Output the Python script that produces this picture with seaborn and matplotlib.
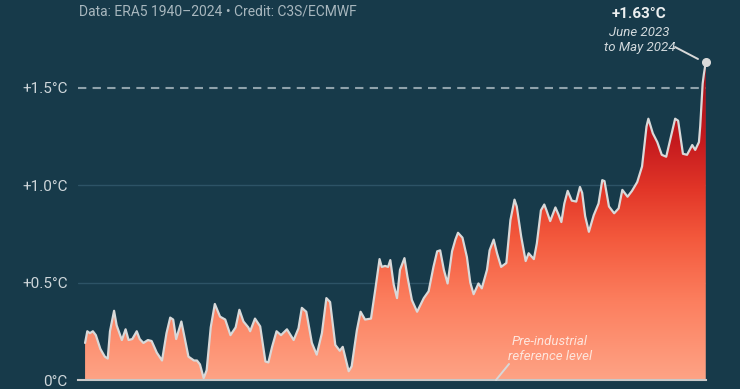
import numpy as np
import pandas as pd
import seaborn as sns
import matplotlib.pyplot as plt
from matplotlib import font_manager
from matplotlib.colors import LinearSegmentedColormap

# 12-month running mean, end month as decimal year
years = [
    1940.95, 1941.25, 1941.6, 1942.0, 1942.4, 1943.0, 1943.6, 1944.0, 1944.3, 1944.85,
    1945.2, 1945.9, 1946.4, 1946.8, 1947.3, 1947.9, 1948.3, 1948.8, 1949.4, 1949.9,
    1950.6, 1951.3, 1951.9, 1952.4, 1952.8, 1953.2, 1953.9, 1954.4, 1954.85, 1955.6,
    1956.0, 1956.4, 1956.9, 1957.3, 1957.85, 1958.4, 1959.1, 1959.8, 1960.5, 1961.2,
    1961.7, 1962.25, 1962.9, 1963.15, 1963.8, 1964.5, 1965.2, 1965.6, 1966.1, 1966.7,
    1967.3, 1968.1, 1969.0, 1969.65, 1970.1, 1970.7, 1971.45, 1972.1, 1972.8, 1973.4,
    1973.9, 1974.6, 1975.2, 1975.6, 1976.4, 1976.8, 1977.5, 1978.0, 1978.6, 1979.4,
    1980.0, 1980.55, 1980.85, 1981.3, 1981.7, 1982.0, 1982.45, 1982.9, 1983.3, 1983.9,
    1984.3, 1984.9, 1985.6, 1986.5, 1987.15, 1987.8, 1988.3, 1988.7, 1989.2, 1989.7,
    1990.3, 1990.75, 1991.1, 1991.7, 1992.3, 1992.75, 1993.2, 1993.85, 1994.3, 1995.0,
    1995.35, 1995.9, 1996.35, 1996.9, 1997.6, 1998.15, 1998.7, 1999.0, 1999.6, 2000.2,
    2000.6, 2001.3, 2001.7, 2002.25, 2002.7, 2003.0, 2003.5, 2004.2, 2004.6, 2005.0,
    2005.4, 2005.85, 2006.4, 2007.0, 2007.5, 2007.8, 2008.2, 2008.7, 2009.35, 2010.0,
    2010.5, 2010.8, 2011.4, 2012.1, 2012.7, 2013.2, 2013.9, 2014.5, 2015.2, 2015.85,
    2016.45, 2016.7, 2017.3, 2017.9, 2018.5, 2019.1, 2019.75, 2020.3, 2020.7, 2021.35,
    2021.9, 2022.6, 2023.0, 2023.5, 2023.67, 2023.83, 2024.0, 2024.17, 2024.42,
]
anomaly = [
    0.19, 0.25, 0.24, 0.25, 0.23, 0.16, 0.12, 0.11, 0.25, 0.355,
    0.28, 0.205, 0.26, 0.205, 0.21, 0.25, 0.21, 0.19, 0.205, 0.20,
    0.14, 0.10, 0.24, 0.32, 0.31, 0.21, 0.30, 0.205, 0.12, 0.10,
    0.10, 0.08, 0.01, 0.05, 0.27, 0.39, 0.325, 0.31, 0.23, 0.27,
    0.36, 0.30, 0.27, 0.25, 0.315, 0.275, 0.095, 0.09, 0.17, 0.25,
    0.23, 0.26, 0.205, 0.265, 0.37, 0.35, 0.19, 0.13, 0.24, 0.42,
    0.40, 0.18, 0.15, 0.17, 0.045, 0.07, 0.255, 0.35, 0.31, 0.315,
    0.47, 0.62, 0.58, 0.585, 0.58, 0.615, 0.49, 0.42, 0.565, 0.625,
    0.53, 0.41, 0.35, 0.42, 0.455, 0.58, 0.66, 0.665, 0.565, 0.495,
    0.66, 0.72, 0.755, 0.73, 0.63, 0.50, 0.44, 0.495, 0.47, 0.565,
    0.665, 0.72, 0.65, 0.58, 0.60, 0.82, 0.925, 0.89, 0.735, 0.61,
    0.65, 0.62, 0.70, 0.87, 0.90, 0.87, 0.815, 0.885, 0.85, 0.81,
    0.905, 0.97, 0.92, 0.915, 0.99, 0.96, 0.84, 0.76, 0.845, 0.905,
    1.025, 1.02, 0.89, 0.855, 0.88, 0.975, 0.94, 0.97, 1.015, 1.095,
    1.30, 1.34, 1.265, 1.22, 1.155, 1.145, 1.25, 1.34, 1.33, 1.16,
    1.155, 1.205, 1.18, 1.22, 1.30, 1.41, 1.52, 1.57, 1.63,
]
ytick_vals = [0, 0.5, 1.0, 1.5]
ytick_labels = ['0°C', '+0.5°C', '+1.0°C', '+1.5°C']
xtick_vals = [1950, 1970, 1990, 2010, 2024]

df = pd.DataFrame({'year': years, 'anomaly': anomaly})

BG = '#173a4a'
sns.set_theme(style='dark', rc={'figure.facecolor': BG, 'axes.facecolor': BG})
names = {f.name for f in font_manager.fontManager.ttflist}
base_font = 'Liberation Sans Narrow' if 'Liberation Sans Narrow' in names else 'Roboto'
plt.rcParams['font.family'] = [base_font, 'DejaVu Sans']

fig = plt.figure(figsize=(7.4, 3.89), dpi=100)
ax = fig.add_axes([78 / 740, 9 / 389, 628 / 740, 350 / 389])
x0, x1 = 1940.0, 2024.45
ax.set_xlim(x0, x1)
ax.set_ylim(0, 1.795)

# gridlines and 1.5 threshold
for v in [0.5, 1.0]:
    ax.axhline(v, color='#2d5366', lw=1, zorder=1)
ax.axhline(1.5, color='#8fa2ab', lw=1.5, ls=(0, (4, 3)), zorder=1)

# gradient fill clipped to area
poly = ax.fill_between(df['year'], 0, df['anomaly'], color='none', lw=0)
cmap = LinearSegmentedColormap.from_list(
    'heat', [(0, '#fea385'), (0.25, '#fc7e5e'), (0.45, '#f3583c'),
             (0.6, '#e23628'), (0.75, '#c51a1e'), (1.0, '#a20f18')])
grad = np.linspace(0, 1, 256).reshape(-1, 1)
im = ax.imshow(grad, extent=[x0, x1, 0, 1.63], origin='lower', aspect='auto',
               cmap=cmap, zorder=2)
im.set_clip_path(poly.get_paths()[0], transform=ax.transData)
ax.set_xlim(x0, x1)
ax.set_ylim(0, 1.795)

sns.lineplot(data=df, x='year', y='anomaly', ax=ax, color='#d9d9d9', lw=1.6,
             zorder=3, legend=False)
ax.plot([years[-1], years[-1]], [0, anomaly[-1]], color='#9aa6ab', lw=0.8, zorder=3)
ax.plot([years[-1]], [anomaly[-1]], 'o', color='#d9d9d9', ms=5.5, zorder=4,
        clip_on=False)

# axes styling
for s in ['top', 'right', 'left']:
    ax.spines[s].set_visible(False)
ax.spines['bottom'].set_color('#c8c8c8')
ax.spines['bottom'].set_linewidth(1.5)
ax.spines['bottom'].set_zorder(5)
ax.set_xticks(xtick_vals)
ax.tick_params(axis='x', length=4, width=1.2, color='#c8c8c8', labelbottom=False)
ax.set_yticks(ytick_vals)
ax.set_yticklabels(ytick_labels)
ax.tick_params(axis='y', length=0, pad=7.5, labelcolor='#ced6da', labelsize=11)
ax.set_xlabel('')
ax.set_ylabel('')

# texts
fig.text(79 / 740, 1 - 12 / 389, 'Data: ERA5 1940\u20132024 \u2022 Credit: C3S/ECMWF',
         ha='left', va='center', color='#a8b7be', fontsize=10)
fig.text(639.5 / 740, 1 - 13.5 / 389, '+1.63°C', ha='center', va='center',
         color='#eceff0', fontsize=11, fontweight='bold')
fig.text(639.5 / 740, 1 - 32 / 389, 'June 2023', ha='center', va='center',
         color='#d3dadd', fontsize=9.5, fontstyle='italic')
fig.text(639.5 / 740, 1 - 47 / 389, 'to May 2024', ha='center', va='center',
         color='#d3dadd', fontsize=9.5, fontstyle='italic')
fig.add_artist(plt.Line2D([675 / 740, 698 / 740], [1 - 47 / 389, 1 - 59 / 389],
                          color='#d9d9d9', lw=1.4, transform=fig.transFigure))

fig.text(550 / 740, 1 - 341.5 / 389, 'Pre-industrial', ha='center', va='center',
         color='#fde6dd', fontsize=9.5, fontstyle='italic', zorder=6)
fig.text(550 / 740, 1 - 356.5 / 389, 'reference level', ha='center', va='center',
         color='#fde6dd', fontsize=9.5, fontstyle='italic', zorder=6)
fig.add_artist(plt.Line2D([509 / 740, 496 / 740], [1 - 364 / 389, 1 - 380 / 389],
                          color='#d8d8d8', lw=1.4, transform=fig.transFigure))

plt.savefig('out.png', dpi=100, facecolor=BG)
